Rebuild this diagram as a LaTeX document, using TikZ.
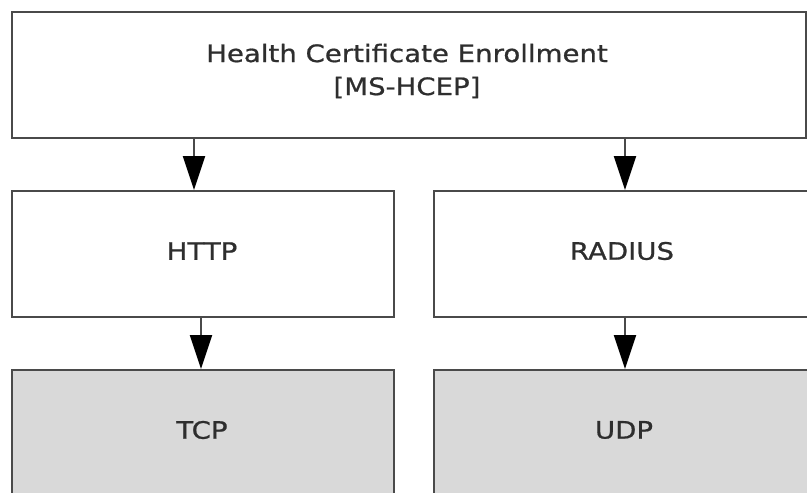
\documentclass[tikz,border=0pt]{standalone}
\usepackage{fontspec}
\setmainfont{DejaVu Sans}[FakeStretch=1.15,FakeBold=0.8]
\usetikzlibrary{arrows.meta}
\definecolor{txt}{HTML}{2E2E2E}
\definecolor{edge}{HTML}{4A4A4A}
\definecolor{fillgray}{HTML}{D9D9D9}
\begin{document}
\begin{tikzpicture}[x=1pt,y=-1pt,
  box/.style={draw=edge, line width=2.2pt, rectangle, anchor=north west, inner sep=0pt,
    text=txt, font=\fontsize{24}{33}\selectfont, align=center},
  grayfill/.style={box, fill=fillgray},
  label/.style={text=txt, font=\fontsize{24}{33}\selectfont, align=center},
  arr/.style={draw=edge, line width=2pt, -{Triangle[width=22pt,length=34pt,fill=black,color=black]}}]
\useasboundingbox (0,0) rectangle (807,493);
\clip (0,0) rectangle (807,493);
\node[box, minimum width=794pt, minimum height=126pt] (hcep) at (11,11) {};
\node[label] (hceptext) at (407,71) {Health Certificate Enrollment\\{}[MS-HCEP]};
\node[box, minimum width=382pt, minimum height=126pt] (http) at (11,190) {};
\node[label] (httptext) at (202,251) {HTTP};
\node[box, minimum width=384pt, minimum height=126pt] (radius) at (433,190) {};
\node[label] (radiustext) at (622,251) {RADIUS};
\node[grayfill, minimum width=382pt, minimum height=126pt] (tcp) at (11,369) {};
\node[label] (tcptext) at (202,430) {TCP};
\node[grayfill, minimum width=384pt, minimum height=126pt] (udp) at (433,369) {};
\node[label] (udptext) at (624,430) {UDP};
\coordinate (c1) at (194,0);
\coordinate (c2) at (625,0);
\coordinate (c3) at (201,0);
\draw[arr] (c1 |- hcep.south) -- (c1 |- http.north);
\draw[arr] (c2 |- hcep.south) -- (c2 |- radius.north);
\draw[arr] (c3 |- http.south) -- (c3 |- tcp.north);
\draw[arr] (c2 |- radius.south) -- (c2 |- udp.north);
\end{tikzpicture}
\end{document}
